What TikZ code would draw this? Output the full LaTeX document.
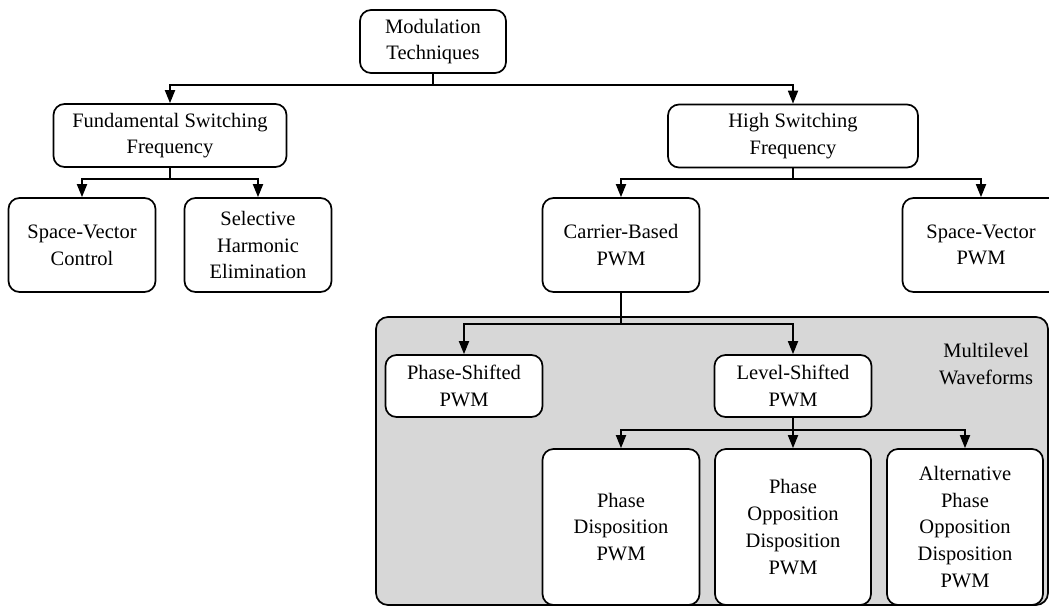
\documentclass[tikz,border=0pt]{standalone}
\usepackage{fontspec}
\setmainfont{Liberation Serif}
\usetikzlibrary{arrows.meta}
\definecolor{graybg}{RGB}{215,215,215}
\begin{document}
\begin{tikzpicture}[x=1pt,y=-1pt,
  box/.style={draw, line width=1.7pt, rounded corners=11pt, fill=white, align=center,
    inner sep=0pt, font=\fontsize{20.5}{26.7}\selectfont},
  lbl/.style={align=center, inner sep=0pt, font=\fontsize{20.5}{26.7}\selectfont},
  conn/.style={line width=1.8pt},
  arr/.style={conn, -{Triangle[length=13pt,width=10pt]}}]
\useasboundingbox (0,0) rectangle (1049,606);
\clip (0,0) rectangle (1049,606);

% grey group
\node[draw, line width=1.7pt, fill=graybg, rounded corners=12pt, minimum width=672pt,
  minimum height=288pt, inner sep=0pt] (mlw) at (712,461) {};
\node[lbl] (mlwlabel) at (986,364) {Multilevel\\Waveforms};

% boxes
\node[box, minimum width=146pt, minimum height=63pt] (mod) at (433,41.5) {Modulation\\Techniques};
\node[box, minimum width=233pt, minimum height=63pt] (fund) at (170,135.5) {Fundamental Switching\\Frequency};
\node[box, minimum width=250pt, minimum height=63pt] (high) at (793,136) {High Switching\\Frequency};
\node[box, minimum width=147pt, minimum height=94pt] (svc) at (82,245) {Space-Vector\\Control};
\node[box, minimum width=147pt, minimum height=94pt] (she) at (258,245) {Selective\\Harmonic\\Elimination};
\node[box, minimum width=157pt, minimum height=94pt] (cb) at (621,245) {Carrier-Based\\PWM};
\node[box, minimum width=157pt, minimum height=94pt] (svp) at (981,245) {Space-Vector\\PWM};
\node[box, minimum width=157pt, minimum height=62pt] (ps) at (464,386) {Phase-Shifted\\PWM};
\node[box, minimum width=157pt, minimum height=62pt] (ls) at (793,386) {Level-Shifted\\PWM};
\node[box, minimum width=157pt, minimum height=156pt] (pd) at (621,527) {Phase\\Disposition\\PWM};
\node[box, minimum width=156pt, minimum height=156pt] (pod) at (793,527) {Phase\\Opposition\\Disposition\\PWM};
\node[box, minimum width=156pt, minimum height=156pt] (apod) at (965,527) {Alternative\\Phase\\Opposition\\Disposition\\PWM};

% junctions
\coordinate (j1) at (433,85);
\coordinate (j2) at (170,179);
\coordinate (j3) at (793,179);
\coordinate (j4) at (621,324);
\coordinate (j5) at (793,430);

% connectors
\draw[conn] (mod.south) -- (j1);
\draw[arr] (j1) -| (fund.north);
\draw[arr] (j1) -| (high.north);
\draw[conn] (fund.south) -- (j2);
\draw[arr] (j2) -| (svc.north);
\draw[arr] (j2) -| (she.north);
\draw[conn] (high.south) -- (j3);
\draw[arr] (j3) -| (cb.north);
\draw[arr] (j3) -| (svp.north);
\draw[conn] (cb.south) -- (j4);
\draw[arr] (j4) -| (ps.north);
\draw[arr] (j4) -| (ls.north);
\draw[conn] (ls.south) -- (j5);
\draw[arr] (j5) -| (pd.north);
\draw[arr] (j5) -- (pod.north);
\draw[arr] (j5) -| (apod.north);
\end{tikzpicture}
\end{document}
